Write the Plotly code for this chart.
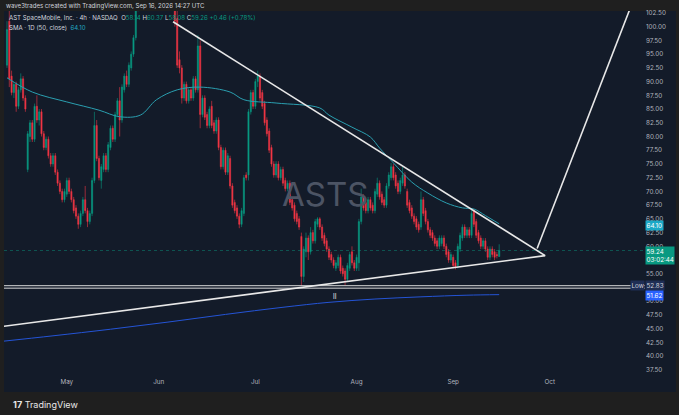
import plotly.graph_objects as go

# ---------------- data ----------------
bar_index = list(range(215))
opens = [93.0,101.0,91.0,88.0,89.5,85.5,88.5,90.5,87.0,74.0,
         80.0,82.5,79.5,85.5,83.0,84.5,80.5,78.0,79.5,76.5,
         75.0,76.5,73.5,71.5,70.0,68.5,69.5,72.0,70.0,68.5,
         67.0,65.5,64.0,66.0,68.5,66.5,64.5,66.0,72.0,82.0,
         76.0,72.0,74.0,76.5,74.0,78.0,81.5,79.5,84.0,86.5,
         83.0,88.5,91.0,89.5,92.5,95.0,98.0,104.0,108.0,112.0,
         110.0,114.0,118.0,115.0,113.0,116.0,112.0,109.0,111.0,108.0,
         110.0,107.0,109.0,106.0,101.5,94.0,92.5,87.0,89.5,86.5,
         88.5,87.0,90.5,88.5,96.5,84.0,87.0,84.0,82.0,85.5,
         82.5,81.0,83.0,78.0,74.5,77.5,73.5,76.0,71.0,68.0,
         67.0,65.5,64.0,66.0,73.0,73.0,84.5,88.0,85.5,90.0,
         91.0,88.0,86.0,83.0,81.0,78.0,75.0,73.0,75.0,72.5,
         74.0,72.0,70.5,71.5,68.5,67.5,66.0,65.0,61.8,54.5,
         59.0,61.5,59.0,62.5,61.0,64.0,65.0,63.5,62.0,61.0,
         59.5,58.5,57.5,56.0,56.5,58.0,56.0,55.5,54.0,56.0,
         59.0,57.0,56.0,57.0,64.5,69.0,68.0,66.5,68.5,67.5,
         66.5,69.5,71.5,69.5,68.5,67.5,71.0,72.5,74.5,73.0,
         71.5,70.0,71.5,73.0,70.0,68.0,67.0,65.5,65.0,64.0,
         63.5,68.5,66.5,64.5,63.0,62.5,61.5,61.0,60.0,60.5,
         61.5,60.0,59.0,57.5,58.0,57.0,56.5,59.5,61.5,63.5,
         62.0,63.0,62.0,66.5,64.5,62.5,61.5,60.0,61.0,59.5,
         58.0,59.5,59.0,58.5,58.14]
highs = [101.0,103.0,92.0,90.0,90.0,89.0,91.5,91.0,87.5,81.0,
         83.0,83.0,86.0,87.5,85.0,85.0,81.0,80.0,80.0,77.0,
         77.0,77.0,74.0,72.0,70.5,70.5,72.5,72.5,70.5,69.0,
         67.5,66.0,66.5,69.0,71.0,67.0,66.5,72.5,84.5,83.0,
         76.5,75.0,77.0,77.0,79.0,82.0,82.0,84.5,87.0,89.0,
         89.5,91.5,92.0,93.5,95.5,98.5,105.0,109.0,113.0,113.5,
         115.0,119.0,119.0,116.0,117.0,117.0,113.0,112.0,112.0,111.0,
         111.0,110.0,110.0,107.0,104.0,95.5,93.0,90.0,90.0,89.0,
         89.0,91.0,91.0,98.5,97.5,87.5,87.5,84.5,85.5,86.5,
         83.0,83.5,83.5,78.5,78.0,78.0,77.0,76.5,71.5,68.5,
         67.5,66.0,67.0,73.0,73.5,85.0,88.5,88.5,90.5,92.0,
         91.5,88.5,86.5,83.5,81.5,78.5,75.5,75.5,75.5,74.5,
         74.5,72.5,72.0,72.0,69.0,68.0,66.5,65.5,62.5,60.0,
         62.5,62.0,63.5,63.0,65.0,65.3,65.3,64.0,62.5,61.5,
         60.0,59.0,58.0,57.5,58.5,58.5,56.5,56.0,57.0,59.0,
         60.0,57.5,58.5,65.0,70.5,69.5,68.5,69.0,69.0,68.0,
         70.5,72.5,72.0,70.0,69.0,71.5,73.5,75.2,75.0,73.5,
         72.0,72.5,74.5,73.5,70.5,68.5,67.5,66.0,65.5,64.5,
         70.0,69.0,67.0,65.0,63.5,63.0,62.0,61.5,62.0,62.0,
         62.0,60.5,59.5,59.0,58.5,57.5,60.5,62.5,64.0,64.0,
         63.5,63.5,66.6,66.8,65.0,63.0,62.0,61.5,61.5,60.0,
         60.0,60.0,59.5,59.0,60.37]
lows = [92.5,89.0,87.5,87.0,84.5,85.0,88.0,86.5,84.5,73.5,
        79.0,79.0,79.0,82.5,82.0,80.0,77.5,77.5,76.0,74.5,
        74.5,73.0,71.0,69.5,68.0,68.0,69.0,69.5,68.0,66.0,
        65.0,63.2,63.5,65.5,66.0,63.5,64.0,65.5,71.5,75.5,
        72.0,70.5,73.5,73.5,73.5,77.5,79.0,79.0,83.5,80.0,
        82.5,88.0,89.0,89.0,92.0,94.5,97.5,102.8,107.0,109.0,
        109.0,113.0,114.0,112.0,112.0,111.0,108.0,108.0,107.0,107.0,
        106.0,106.0,105.0,100.0,92.5,91.5,86.0,86.5,86.0,86.0,
        86.5,86.5,88.0,88.0,81.5,83.5,83.0,81.5,81.5,81.5,
        80.5,80.5,77.5,74.0,74.0,73.0,73.0,70.5,67.0,66.0,
        65.0,63.3,63.5,65.5,72.0,72.0,84.0,85.0,85.0,89.0,
        86.5,85.0,82.0,80.0,77.0,74.5,72.5,72.5,72.0,72.0,
        71.0,70.0,70.0,67.5,66.5,64.5,64.0,63.0,52.83,53.5,
        58.0,57.5,58.5,60.5,60.5,63.5,63.0,61.0,60.0,59.0,
        57.5,57.0,56.0,55.5,56.0,55.0,54.5,52.9,53.5,55.5,
        56.5,55.5,55.5,55.5,64.0,66.5,66.0,66.0,66.5,66.0,
        66.0,69.0,68.5,67.5,67.0,67.0,70.5,72.0,72.0,70.5,
        69.5,69.5,71.0,70.5,67.0,66.0,65.0,64.0,63.0,62.5,
        63.0,65.5,64.0,62.5,61.5,61.0,60.0,59.5,59.5,60.0,
        59.5,58.0,57.0,57.0,56.0,55.8,56.0,59.0,61.0,61.5,
        61.5,61.5,61.5,63.5,61.5,60.5,59.5,59.5,59.0,57.5,
        57.5,58.0,57.5,57.8,58.08]
closes = [99.5,90.5,88.0,89.5,85.5,88.5,90.5,87.0,85.0,80.5,
          82.5,79.5,85.5,83.0,84.5,80.5,78.0,79.5,76.5,75.0,
          76.5,73.5,71.5,70.0,68.5,70.0,72.0,70.0,68.5,66.5,
          65.5,64.0,66.0,68.5,66.5,64.5,66.0,72.0,82.0,76.0,
          72.5,74.5,76.5,74.0,78.5,81.5,79.5,84.0,86.5,83.0,
          89.0,91.0,89.5,93.0,95.0,98.0,104.5,108.0,112.0,110.0,
          114.0,118.0,115.0,113.0,116.0,112.0,109.0,111.0,108.0,110.0,
          107.0,109.0,106.0,101.0,93.0,92.5,87.0,89.5,86.5,88.5,
          87.0,90.5,88.5,96.5,84.0,87.0,83.5,82.0,85.0,82.0,
          81.0,83.0,78.0,74.5,77.5,73.5,76.5,71.0,67.5,66.5,
          65.5,64.0,66.5,72.5,72.5,84.5,88.0,85.5,90.0,91.0,
          87.0,85.5,82.5,80.5,77.5,75.0,73.0,75.0,72.5,74.0,
          71.5,70.5,71.5,68.0,67.0,65.0,64.5,63.5,54.5,59.5,
          61.5,59.0,62.5,61.0,64.5,65.0,63.5,61.5,60.5,59.5,
          58.0,57.5,56.5,57.0,58.0,55.5,55.0,54.0,56.5,58.5,
          57.0,56.0,58.0,64.5,69.0,67.0,66.5,68.5,67.0,66.5,
          70.0,71.5,69.0,68.0,67.5,71.0,73.0,74.5,72.5,71.0,
          70.0,72.0,73.0,71.0,67.5,66.5,65.5,64.5,63.5,63.0,
          68.5,66.0,64.5,63.0,62.0,61.5,60.5,60.0,61.5,61.5,
          60.0,58.5,57.5,58.5,56.5,56.3,60.0,62.0,63.5,62.0,
          63.0,62.0,66.0,64.0,62.0,61.0,60.0,61.0,59.5,58.0,
          59.5,58.5,58.0,58.3,59.26]

# SMA 1D(50) (bar index, value)
sma_x = [0, 11, 26, 40, 49, 58, 65, 74, 84, 97, 103, 117, 136, 140, 150, 158, 162, 168, 176, 183, 191, 198, 203, 208, 214]
sma_y = [90.7, 88.1, 86.3, 84.8, 83.6, 83.9, 86.7, 88.5, 89.0, 88.1, 86.7, 86.1, 85.2, 83.9, 81.7, 79.9, 77.9, 75.2, 71.7, 69.7, 67.9, 67.0, 66.8, 65.6, 64.1]

# long moving average (blue)
ma_long_x = [-2, 20, 45, 70, 95, 120, 140, 160, 180, 200, 214]
ma_long_y = [42.7, 43.7, 44.9, 46.2, 47.6, 48.9, 49.8, 50.4, 50.8, 51.1, 51.2]

# drawn trendlines (bar index, price)
resist_x = [72.2, 234.0]
resist_y = [100.9, 58.3]
support_x = [-2.0, 234.0]
support_y = [45.4, 58.3]
proj_x = [230.5, 271.0]
proj_y = [59.6, 103.4]

low_value = 52.83
last_price = 59.24
sma_last = 64.10
ma_long_last = 51.62
marker_bar, marker_price = 142.6, 50.8

price_ticks = [102.5, 100.0, 97.5, 95.0, 92.5, 90.0, 87.5, 85.0, 82.5, 80.0, 77.5, 75.0,
               72.5, 70.0, 67.5, 65.0, 62.5, 60.0, 57.5, 55.0, 52.5, 50.0, 47.5, 45.0,
               42.5, 40.0, 37.5]
price_labels = ["102.50", "100.00", "97.50", "95.00", "92.50", "90.00", "87.50", "85.00",
                "82.50", "80.00", "77.50", "75.00", "72.50", "70.00", "67.50", "65.00",
                "62.50", "60.00", "", "55.00", "", "50.00", "47.50", "45.00",
                "42.50", "40.00", "37.50"]
month_ticks = [26, 66, 108, 152, 194, 236]
month_labels = ["May", "Jun", "Jul", "Aug", "Sep", "Oct"]

# ---------------- style ----------------
W, H = 679, 415
L_PX, R_PX, T_PX, B_PX = 4, 645, 11, 377
PANE = "#131b29"
FRAME = "#1f1f1f"
UP = "#089981"
DOWN = "#f23645"
TXT = "#b2b5be"
FONT = "Inter, Roboto, Arial, sans-serif"

def px_x(X):
    return (X - L_PX) / (R_PX - L_PX)

def px_y(Y):
    return (B_PX - Y) / (B_PX - T_PX)

x_range = [-1.3, 277.4]
y_range = [36.2, 102.86]

fig = go.Figure()

fig.add_trace(go.Scatter(x=ma_long_x, y=ma_long_y, mode="lines",
                         line=dict(color="#2454d6", width=1, shape="spline"),
                         hoverinfo="skip"))
fig.add_trace(go.Scatter(x=sma_x, y=sma_y, mode="lines",
                         line=dict(color="#2a9fb0", width=1, shape="spline"),
                         hoverinfo="skip"))

fig.add_trace(go.Candlestick(
    x=bar_index, open=opens, high=highs, low=lows, close=closes,
    increasing=dict(line=dict(color=UP, width=0.6), fillcolor=UP),
    decreasing=dict(line=dict(color=DOWN, width=0.6), fillcolor=DOWN),
    whiskerwidth=0, hoverinfo="skip"))

# horizontal low line (double white)
fig.add_trace(go.Scatter(x=[x_range[0], x_range[1]], y=[low_value, low_value], mode="lines",
                         line=dict(color="#d8d8d8", width=1), hoverinfo="skip"))
fig.add_trace(go.Scatter(x=[x_range[0], x_range[1]], y=[low_value - 0.45, low_value - 0.45], mode="lines",
                         line=dict(color="#d8d8d8", width=1), hoverinfo="skip"))
# current price line
fig.add_trace(go.Scatter(x=[x_range[0], x_range[1]], y=[last_price, last_price], mode="lines",
                         line=dict(color="rgba(8,153,129,0.45)", width=1, dash="dot"), hoverinfo="skip"))

for xs, ys in [(resist_x, resist_y), (support_x, support_y), (proj_x, proj_y)]:
    fig.add_trace(go.Scatter(x=xs, y=ys, mode="lines",
                             line=dict(color="#e8e8e8", width=1.6), hoverinfo="skip"))

ann = []
# small session marker
ann.append(dict(x=marker_bar, y=marker_price, xref="x", yref="y", text="ll", showarrow=False,
                font=dict(size=7, color="#e6e6e6", family=FONT)))
# watermark
ann.append(dict(x=0.5, y=0.5, xref="paper", yref="paper", text="ASTS", showarrow=False,
                font=dict(size=33, color="#4c5464", family=FONT)))
# header texts
ann.append(dict(x=px_x(4), y=px_y(6), xref="paper", yref="paper", xanchor="left", yanchor="middle",
                text="wave3trades created with TradingView.com, Sep 16, 2026 14:27 UTC", showarrow=False,
                font=dict(size=6.1, color="#d1d4dc", family=FONT)))
g = "color:#089981"
ann.append(dict(x=px_x(7), y=px_y(18), xref="paper", yref="paper", xanchor="left", yanchor="middle",
                text=("AST SpaceMobile, Inc. · 4h · NASDAQ  O<span style='%s'>58.14</span> "
                      "H<span style='%s'>60.37</span> L<span style='%s'>58.08</span> "
                      "C<span style='%s'>59.26</span> <span style='%s'>+0.46 (+0.78%%)</span>") % (g, g, g, g, g),
                showarrow=False, font=dict(size=6.1, color="#d1d4dc", family=FONT)))
ann.append(dict(x=px_x(7), y=px_y(27), xref="paper", yref="paper", xanchor="left", yanchor="middle",
                text="SMA · 1D (50, close)  <span style='color:#22a7c0'>64.10</span>",
                showarrow=False, font=dict(size=6.1, color="#d1d4dc", family=FONT)))
# price boxes
ann.append(dict(x=1, y=sma_last - 0.25, xref="paper", yref="y", xanchor="left", yanchor="middle",
                text="%.2f" % sma_last, showarrow=False, bgcolor="#1ba8c6", borderpad=0.5,
                font=dict(size=6.3, color="#ffffff", family=FONT)))
ann.append(dict(x=1, y=last_price - 1.0, xref="paper", yref="y", xanchor="left", yanchor="middle",
                text="%.2f<br>03:02:44" % last_price, showarrow=False, bgcolor=UP, borderpad=0.5,
                align="left", font=dict(size=6.3, color="#ffffff", family=FONT)))
ann.append(dict(x=1, y=low_value, xref="paper", yref="y", xanchor="right", yanchor="middle",
                text="Low", showarrow=False, bgcolor="#1f2e55", borderpad=0.5,
                font=dict(size=6.3, color="#d1d4dc", family=FONT)))
ann.append(dict(x=1, y=low_value, xref="paper", yref="y", xanchor="left", yanchor="middle",
                text="%.2f" % low_value, showarrow=False, bgcolor="#1f2e55", borderpad=0.5,
                font=dict(size=6.3, color="#d1d4dc", family=FONT)))
ann.append(dict(x=1, y=ma_long_last - 0.5, xref="paper", yref="y", xanchor="left", yanchor="middle",
                text="%.2f" % ma_long_last, showarrow=False, bgcolor="#2962ff", borderpad=0.5,
                font=dict(size=6.3, color="#ffffff", family=FONT)))
# footer logo
ann.append(dict(x=px_x(11), y=px_y(404), xref="paper", yref="paper", xanchor="left", yanchor="middle",
                text="<b>17</b> TradingView", showarrow=False,
                font=dict(size=9, color="#e8e8e8", family=FONT)))

shapes = [dict(type="rect", xref="paper", yref="paper", layer="below",
               x0=px_x(4), x1=px_x(676), y0=px_y(392), y1=px_y(11),
               fillcolor=PANE, line=dict(width=0))]

fig.update_layout(
    width=W, height=H,
    margin=dict(l=L_PX, r=W - R_PX, t=T_PX, b=H - B_PX, pad=0),
    paper_bgcolor=FRAME, plot_bgcolor=PANE,
    showlegend=False,
    annotations=ann, shapes=shapes,
    xaxis=dict(range=x_range, showgrid=False, zeroline=False, rangeslider=dict(visible=False),
               tickmode="array", tickvals=month_ticks, ticktext=month_labels,
               tickfont=dict(size=6.3, color=TXT, family=FONT), ticks="", showline=False,
               fixedrange=True),
    yaxis=dict(range=y_range, side="right", showgrid=False, zeroline=False,
               tickmode="array", tickvals=price_ticks, ticktext=price_labels,
               tickfont=dict(size=6.3, color=TXT, family=FONT), ticks="", showline=False,
               fixedrange=True),
)

fig.write_html("out.html", config={"displayModeBar": False},
               post_script="document.body.style.margin='0px';document.body.style.padding='0px';"
                           "document.documentElement.style.overflow='hidden';")
